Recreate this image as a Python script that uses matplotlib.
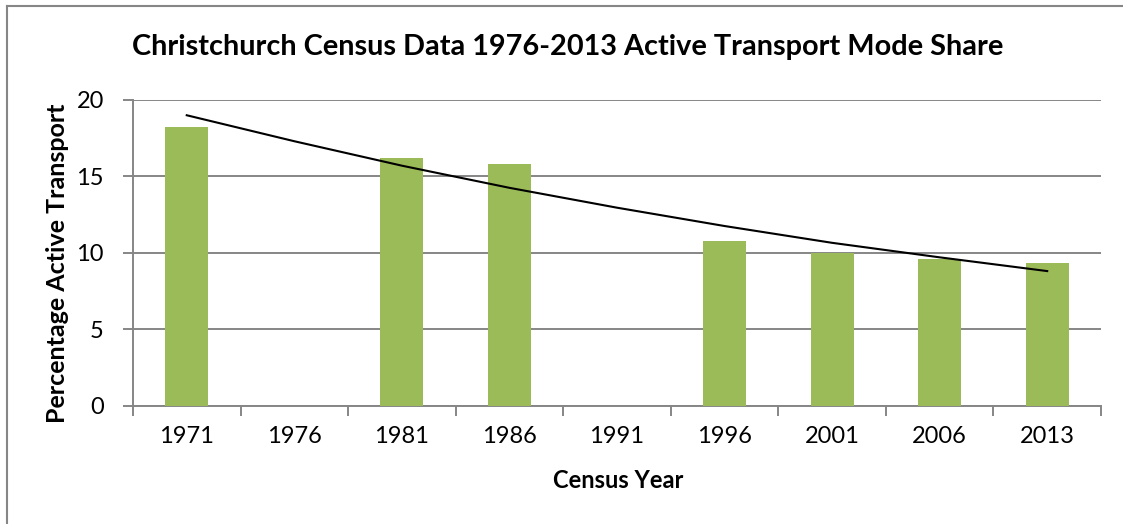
import matplotlib.pyplot as plt
from matplotlib.lines import Line2D
import numpy as np

# census data
years = ['1971', '1976', '1981', '1986', '1991', '1996', '2001', '2006', '2013']
share = [18.2, np.nan, 16.2, 15.8, np.nan, 10.8, 10.0, 9.6, 9.3]
# trendline at each category
trend = [19.0, 17.3, 15.7, 14.25, 12.95, 11.75, 10.65, 9.7, 8.8]

plt.rcParams['font.family'] = ['Lato', 'DejaVu Sans']

fig = plt.figure(figsize=(11.23, 5.24), dpi=100)
ax = fig.add_axes([0.1184, 0.2261, 0.9804 - 0.1184, 0.8092 - 0.2261])

grid_c = '#868686'
x = np.arange(len(years))

ax.bar(x, share, width=0.4, color='#9BBB59', zorder=3)
ax.plot(x, trend, color='black', lw=1.5, zorder=4)

ax.set_xlim(-0.5, len(years) - 0.5)
ax.set_ylim(0, 20)
ax.set_yticks([0, 5, 10, 15, 20])
ax.yaxis.grid(True, color=grid_c, lw=1.4, zorder=0)

ax.set_xticks(x)
ax.set_xticklabels(years)
ax.set_xticks(np.arange(len(years) + 1) - 0.5, minor=True)
ax.tick_params(axis='x', which='major', length=0, pad=15, labelsize=17)
ax.tick_params(axis='x', which='minor', length=7, width=1.4, color=grid_c)
ax.tick_params(axis='y', length=7, width=1.4, color=grid_c, pad=14, labelsize=17)

for s in ['top', 'right']:
    ax.spines[s].set_visible(False)
for s in ['left', 'bottom']:
    ax.spines[s].set_color(grid_c)
    ax.spines[s].set_linewidth(1.4)

fig.text(568 / 1123, 1 - 47 / 524, 'Christchurch Census Data 1976-2013 Active Transport Mode Share',
         fontsize=20.8, fontweight='bold', ha='center', va='center')
fig.text(618 / 1123, 1 - 481 / 524, 'Census Year', fontsize=17, fontweight='bold',
         ha='center', va='center')
fig.text(58 / 1123, 1 - 263 / 524, 'Percentage Active Transport', fontsize=18,
         fontweight='bold', ha='center', va='center', rotation=90)

# chart border
fig.add_artist(Line2D([7 / 1123, 1.0], [1 - 6 / 524, 1 - 6 / 524], color=grid_c, lw=1.5))
fig.add_artist(Line2D([7 / 1123, 7 / 1123], [0, 1 - 6 / 524], color=grid_c, lw=1.5))

fig.savefig('out.png', dpi=100)
